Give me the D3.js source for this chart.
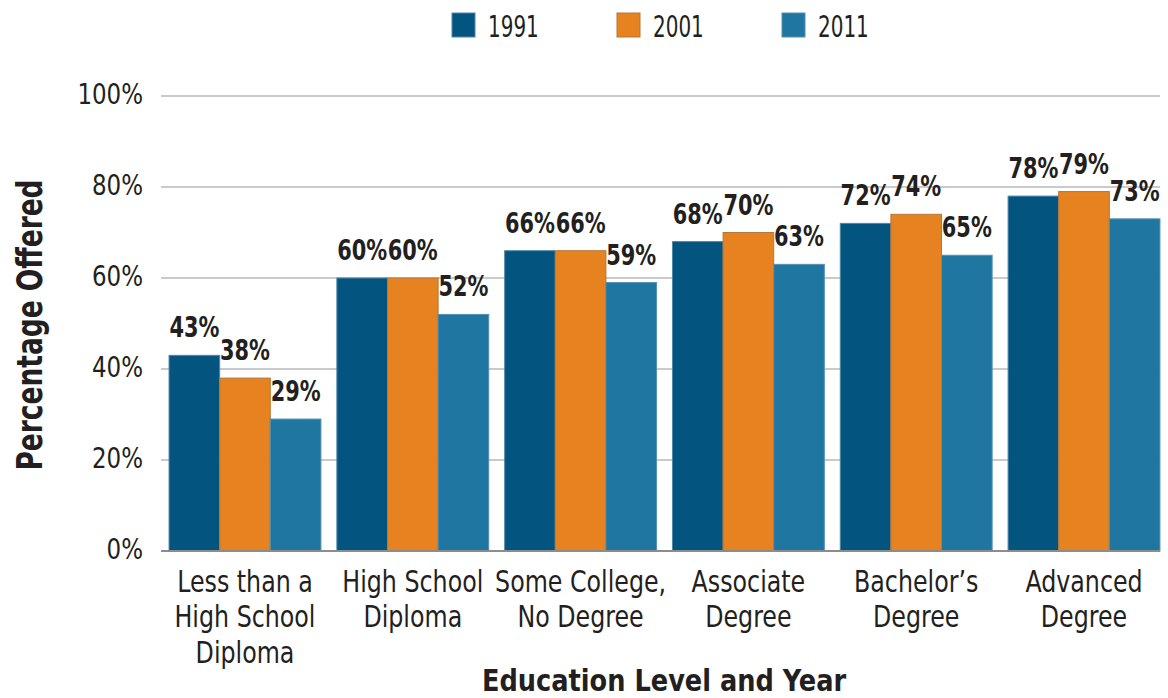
<!DOCTYPE html>
<html>
<head>
<meta charset="utf-8">
<script src="https://cdn.jsdelivr.net/npm/d3@7"></script>
<style>
  body { margin: 0; background: #fff; }
  text { font-family: "DejaVu Sans Condensed", "Liberation Sans Narrow", sans-serif; fill: #231f20; }
</style>
</head>
<body>
<div id="chart"></div>
<script>
// data
var categories = [
  ["Less than a", "High School", "Diploma"],
  ["High School", "Diploma"],
  ["Some College,", "No Degree"],
  ["Associate", "Degree"],
  ["Bachelor\u2019s", "Degree"],
  ["Advanced", "Degree"]
];
var years = ["1991", "2001", "2011"];
var values1991 = [43, 60, 66, 68, 72, 78];
var values2001 = [38, 60, 66, 70, 74, 79];
var values2011 = [29, 52, 59, 63, 65, 73];
var yTicks = [0, 20, 40, 60, 80, 100];

var colors = { "1991": "#03557f", "2001": "#e6821f", "2011": "#1f77a1" };
var strokes = { "1991": "#4d86ab", "2001": "#b7763a", "2011": "#5590b4" };

var width = 1168, height = 698;

var svg = d3.select("#chart").append("svg")
    .attr("width", width)
    .attr("height", height);

var series = [values1991, values2001, values2011];

// the reference uses a condensed face, so squeeze DejaVu horizontally
function squeeze(x, y, sx) {
    return "translate(" + x + "," + y + ") scale(" + sx + ",1)";
}

// scales
var x0 = d3.scaleBand()
    .domain(d3.range(categories.length))
    .range([161, 1168])
    .paddingInner(0.095)
    .paddingOuter(0.048);

var x1 = d3.scaleBand()
    .domain(years)
    .range([0, x0.bandwidth()]);

var y = d3.scaleLinear()
    .domain([0, 100])
    .range([551, 96]);

// gridlines
svg.append("g").selectAll("line")
    .data(yTicks.filter(function(d) { return d > 0; }))
    .enter().append("line")
    .attr("x1", 161).attr("x2", 1160)
    .attr("y1", function(d) { return y(d); })
    .attr("y2", function(d) { return y(d); })
    .style("stroke", "#b9b9b9")
    .style("stroke-width", 1.5);

// y tick labels
svg.append("g").selectAll("text")
    .data(yTicks)
    .enter().append("text")
    .attr("transform", function(d) { return squeeze(143, y(d) + 8, 0.88); })
    .attr("text-anchor", "end")
    .attr("font-size", 29)
    .text(function(d) { return d + "%"; });

// bars
var groups = svg.append("g").selectAll("g")
    .data(categories)
    .enter().append("g")
    .attr("transform", function(d, i) { return "translate(" + x0(i) + ",0)"; });

function rowsFor(d, i) {
    return years.map(function(yr, j) { return { year: yr, value: series[j][i] }; });
}

groups.selectAll("rect")
    .data(rowsFor)
    .enter().append("rect")
    .attr("x", function(d) { return x1(d.year); })
    .attr("y", function(d) { return y(d.value); })
    .attr("width", x1.bandwidth())
    .attr("height", function(d) { return y(0) - y(d.value); })
    .style("fill", function(d) { return colors[d.year]; })
    .style("stroke", function(d) { return strokes[d.year]; })
    .style("stroke-width", 1);

// value labels
groups.selectAll("text.val")
    .data(rowsFor)
    .enter().append("text")
    .attr("class", "val")
    .attr("transform", function(d) {
        return squeeze(x1(d.year) + x1.bandwidth() / 2, y(d.value) - 18, 0.8);
    })
    .attr("text-anchor", "middle")
    .attr("font-size", 29)
    .attr("font-weight", "bold")
    .text(function(d) { return d.value + "%"; });

// baseline axis
svg.append("line")
    .attr("x1", 161).attr("x2", 1160)
    .attr("y1", y(0)).attr("y2", y(0))
    .style("stroke", "#8c8c8c")
    .style("stroke-width", 2);

// category labels
groups.append("text")
    .attr("transform", squeeze(x0.bandwidth() / 2, 0, 0.88))
    .attr("text-anchor", "middle")
    .attr("font-size", 30)
    .selectAll("tspan")
    .data(function(d) { return d; })
    .enter().append("tspan")
    .attr("x", 0)
    .attr("y", function(d, i) { return 592 + i * 35.5; })
    .text(function(d) { return d; });

// axis titles
svg.append("text")
    .attr("transform", squeeze(664, 691, 0.92))
    .attr("text-anchor", "middle")
    .attr("font-size", 31)
    .attr("font-weight", "bold")
    .text("Education Level and Year");

svg.append("text")
    .attr("transform", "translate(42,325) rotate(-90) scale(0.84,1)")
    .attr("text-anchor", "middle")
    .attr("font-size", 35)
    .attr("font-weight", "bold")
    .text("Percentage Offered");

// legend
var legendX = [452, 617, 782];
var legend = svg.append("g").selectAll("g")
    .data(years)
    .enter().append("g")
    .attr("transform", function(d, i) { return "translate(" + legendX[i] + ",13)"; });

legend.append("rect")
    .attr("width", 23).attr("height", 24)
    .style("fill", function(d) { return colors[d]; })
    .style("stroke", function(d) { return strokes[d]; })
    .style("stroke-width", 1);

legend.append("text")
    .attr("transform", squeeze(36, 24, 0.74))
    .attr("font-size", 30)
    .text(function(d) { return d; });
</script>
</body>
</html>
